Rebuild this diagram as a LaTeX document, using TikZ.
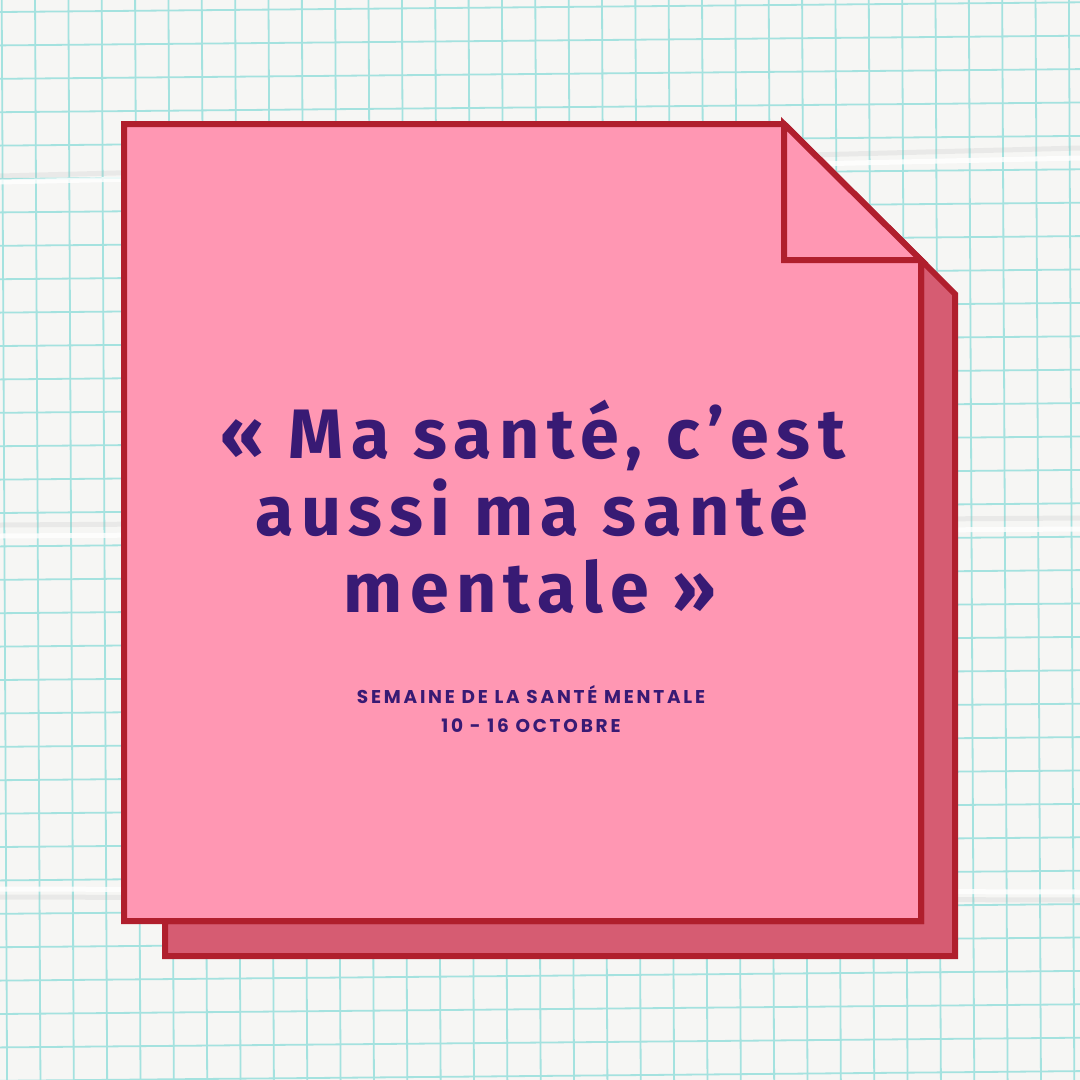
\documentclass[tikz,border=0pt]{standalone}
\usepackage{fontspec}
\newfontfamily\quotefont{Fira Sans}[LetterSpace=10.5]
\newfontfamily\subfont{Poppins}[LetterSpace=15]
\definecolor{paper}{HTML}{F6F6F4}
\definecolor{gridc}{HTML}{A4E2DF}
\definecolor{border}{HTML}{B01F2D}
\definecolor{notefill}{HTML}{FF97B3}
\definecolor{shadowfill}{HTML}{D65C72}
\definecolor{ink}{HTML}{381A74}
\tikzset{
  gridline/.style={draw=gridc, line width=1.8pt},
  crease/.style={draw=black!30, opacity=0.18, line width=5pt},
  highlight/.style={draw=white, opacity=0.8, line width=5pt},
  notebox/.style={draw=border, line width=6pt, line join=miter, fill=notefill},
  shadowbox/.style={draw=border, line width=6pt, line join=miter, fill=shadowfill},
  quoteline/.style={anchor=base, text=ink, font=\quotefont\bfseries\fontsize{70}{77}\selectfont, inner sep=0pt},
  subline/.style={anchor=base, text=ink, font=\subfont\bfseries\fontsize{18.5}{29}\selectfont, inner sep=0pt}
}
\begin{document}
\begin{tikzpicture}[x=1pt, y=-1pt]
\useasboundingbox (0,0) rectangle (1080,1080);
\fill[paper] (0,0) rectangle (1080,1080);
% grid paper
\foreach \j in {-1,...,33} {
  \draw[gridline] ({1.7+33.35*\j},0) -- ({1.7+33.35*\j+5.4},1080);
}
\foreach \k in {-1,...,33} {
  \draw[gridline] (0,{12+33.4*\k}) -- (1080,{12+33.4*\k-9.7});
}
% creases
\draw[crease] (0,176) -- (1080,148);
\draw[highlight] (0,182) -- (1080,158);
\draw[crease] (0,525) -- (1080,518);
\draw[highlight] (0,536) -- (1080,529);
\draw[highlight] (0,889) -- (1080,892);
\draw[crease] (0,897) -- (1080,900);
% shadow sheet
\coordinate (s1) at (165,921);
\coordinate (s2) at (165,956);
\coordinate (s3) at (955,956);
\coordinate (s4) at (955,294);
\coordinate (s5) at (921,260);
\coordinate (s6) at (921,921);
\path[shadowbox] (s1) -- (s2) -- (s3) -- (s4) -- (s5) -- (s6) -- cycle;
% front sheet
\coordinate (f1) at (124,124);
\coordinate (f2) at (784,124);
\coordinate (f3) at (921,260);
\coordinate (f4) at (921,921);
\coordinate (f5) at (124,921);
\path[notebox] (f1) -- (f2) -- (f3) -- (f4) -- (f5) -- cycle;
% folded corner
\coordinate (c1) at (784,260);
\path[notebox] (f2) -- (c1) -- (f3) -- cycle;
% texts
\node[quoteline] (q1) at (533,458) {« Ma santé, c’est};
\node[quoteline] (q2) at (532,535) {aussi ma santé};
\node[quoteline] (q3) at (530,612) {mentale »};
\node[subline] (t1) at (531,703) {SEMAINE DE LA SANTÉ MENTALE};
\node[subline] (t2) at (531,732) {10 - 16 OCTOBRE};
\end{tikzpicture}
\end{document}
